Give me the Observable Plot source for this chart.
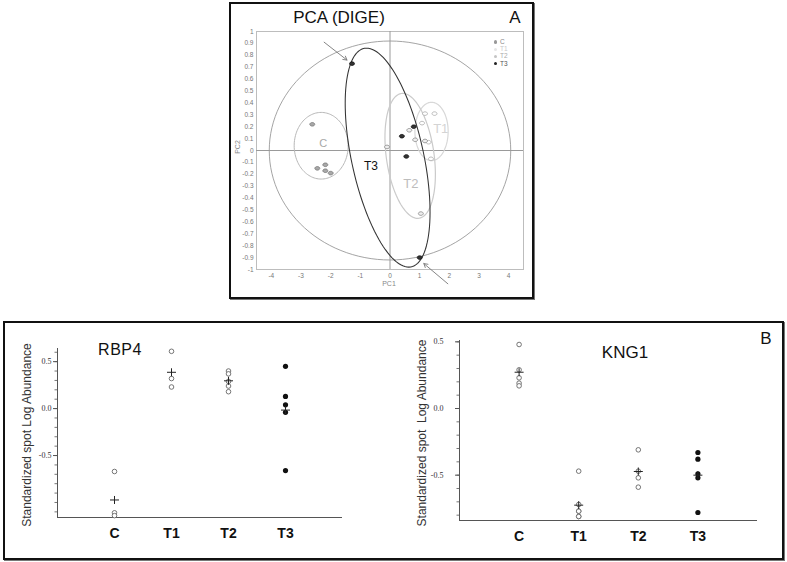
<!DOCTYPE html>
<html><head><meta charset="utf-8">
<script src="https://cdn.jsdelivr.net/npm/d3@7"></script>
<script src="https://cdn.jsdelivr.net/npm/@observablehq/plot@0.6"></script>
<style>
body{margin:0;background:#fff;font-family:"Liberation Sans",Arial,sans-serif;}
#page{position:relative;width:787px;height:562px;overflow:hidden;background:#fff;}
.box{position:absolute;box-sizing:border-box;border:2px solid #111;}
.t{position:absolute;transform:translate(-50%,-50%);white-space:nowrap;line-height:1;}
.svgabs{position:absolute;overflow:visible;}
</style></head><body><div id="page"></div>
<script>
// ---------- Panel A: PCA (DIGE) data ----------
const pcaGroup = ["C","C","C","C","C","T1","T1","T1","T1","T1","T2","T2","T2","T2","T2","T3","T3","T3","T3","T3"];
const pcaPC1 = [-2.62,-2.45,-2.18,-2.18,-2.0, 1.18,1.5,1.08,1.3,1.38, -0.1,0.65,0.85,1.18,1.04, -1.28,1.0,0.4,0.8,0.55];
const pcaPC2 = [0.22,-0.15,-0.12,-0.17,-0.19, 0.31,0.31,0.23,0.07,-0.07, 0.03,0.17,0.09,0.08,-0.53, 0.73,-0.9,0.12,0.2,-0.05];
// confidence ellipses (centre, half-widths, phase tilt)
const ellipseGroup = ["all","C","T1","T2","T3"];
const ellipseCx = [0,-2.32,1.4,0.68,-0.08];
const ellipseCy = [0,0.04,0.16,-0.045,-0.06];
const ellipseRx = [4.07,0.91,0.56,0.85,1.43];
const ellipseRy = [0.92,0.28,0.245,0.525,0.92];
const ellipsePhi = [0,0,0,-0.3,-0.52];
const ellipseLabels = ["C","T1","T2","T3"];
const ellipseLabelX = [-2.25,1.71,0.7,-0.64];
const ellipseLabelY = [0.06,0.18,-0.28,-0.13];
const arrowX1 = [-2.22,1.95], arrowY1 = [0.91,-1.12], arrowX2 = [-1.45,1.14], arrowY2 = [0.76,-0.95];
const pcaXTicks = [-4,-3,-2,-1,0,1,2,3,4];
const pcaYTicks = [-1,-0.9,-0.8,-0.7,-0.6,-0.5,-0.4,-0.3,-0.2,-0.1,0,0.1,0.2,0.3,0.4,0.5,0.6,0.7,0.8,0.9,1];

// ---------- Panel B data ----------
const groups = ["C","T1","T2","T3"];
const rbp4C = [-0.67,-1.11,-1.14];
const rbp4T1 = [0.61,0.32,0.23];
const rbp4T2 = [0.40,0.37,0.29,0.24,0.18];
const rbp4T3 = [0.45,0.13,0.04,-0.04,-0.66];
const kng1C = [0.48,0.29,0.23,0.19,0.17];
const kng1T1 = [-0.47,-0.72,-0.77,-0.77,-0.81,-0.81];
const kng1T2 = [-0.31,-0.47,-0.52,-0.59];
const kng1T3 = [-0.33,-0.38,-0.49,-0.52,-0.78];
const yLabelTicks = [-0.5,0,0.5];

const page = document.getElementById("page");
function box(l,t,w,h,shadow){const d=document.createElement("div");d.className="box";
  Object.assign(d.style,{left:l+"px",top:t+"px",width:w+"px",height:h+"px",boxShadow:shadow||"none"});page.appendChild(d);}
function txt(s,x,y,style){const d=document.createElement("div");d.className="t";d.textContent=s;
  d.style.left=x+"px";d.style.top=y+"px";Object.assign(d.style,style||{});page.appendChild(d);return d;}
function place(svg,l,t){svg.classList.add("svgabs");svg.style.left=l+"px";svg.style.top=t+"px";page.appendChild(svg);}

box(229,2,305,297,"1px 1px 0 #777");
box(3,321,781,239,"1px 1px 0 #777");

// ---------- Panel A plot ----------
const ellipseStroke = {all:"#9a9a9a", C:"#b8b8b8", T1:"#d8d8d8", T2:"#cacaca", T3:"#333333"};
const ellipseWidth = {all:0.9, C:1, T1:1.2, T2:1.2, T3:1.05};
const ellipseMarks = ellipseGroup.map((g,i)=>{
  const pts = d3.range(0,121).map(k=>{const t=k/120*2*Math.PI;
    return {x: ellipseCx[i]+ellipseRx[i]*Math.cos(t), y: ellipseCy[i]+ellipseRy[i]*Math.sin(t+ellipsePhi[i])};});
  return Plot.line(pts,{x:"x",y:"y",stroke:ellipseStroke[g],strokeWidth:ellipseWidth[g]});
});
const pcaData = pcaGroup.map((g,i)=>({g,x:pcaPC1[i],y:pcaPC2[i]}));
const ptFill = {C:"#a8a8a8",T1:"#ffffff",T2:"#eeeeee",T3:"#333333"};
const ptStroke = {C:"#777",T1:"#aaa",T2:"#888",T3:"#111"};
const ellSym = {draw(ctx){const rx=2.5,ry=1.8;for(let i=0;i<=16;i++){const a=i/16*2*Math.PI;const x=rx*Math.cos(a),y=ry*Math.sin(a);i?ctx.lineTo(x,y):ctx.moveTo(x,y);}ctx.closePath();}};
const labelFill = {C:"#a8a8a8",T1:"#d4d4d4",T2:"#bdbdbd",T3:"#111"};
const labelSize = {C:11,T1:13,T2:13,T3:12};
const labelData = ellipseLabels.map((s,i)=>({s,x:ellipseLabelX[i],y:ellipseLabelY[i]}));
const arrowData = arrowX1.map((d,i)=>({x1:d,y1:arrowY1[i],x2:arrowX2[i],y2:arrowY2[i]}));

const svgA = Plot.plot({
  width:304, height:295, marginLeft:27, marginRight:10, marginTop:28, marginBottom:29,
  x:{domain:[-4.5,4.5], label:null}, y:{domain:[-1,1], label:null},
  color:{type:"identity"},
  style:{fontFamily:"Liberation Sans, Arial, sans-serif", background:"transparent"},
  marks:[
    Plot.frame({stroke:"#bdbdbd"}),
    Plot.ruleX([0],{stroke:"#9a9a9a"}),
    Plot.ruleY([0],{stroke:"#9a9a9a"}),
    Plot.axisX({ticks:pcaXTicks, tickSize:0, tickPadding:4, fontSize:6.5, fill:"#777", tickFormat:d=>String(d), label:null}),
    Plot.axisY({ticks:pcaYTicks, tickSize:0, tickPadding:3, fontSize:6.5, fill:"#777", tickFormat:d=>String(+d.toFixed(1)), label:null}),
    ...ellipseMarks,
    Plot.dot(pcaData,{x:"x",y:"y",symbol:ellSym,fill:d=>ptFill[d.g],stroke:d=>ptStroke[d.g],strokeWidth:0.8}),
    Plot.text(labelData,{x:"x",y:"y",text:"s",fill:d=>labelFill[d.s],fontSize:d=>labelSize[d.s]}),
    Plot.arrow(arrowData,{x1:"x1",y1:"y1",x2:"x2",y2:"y2",stroke:"#777",strokeWidth:0.9,headLength:7})
  ]
});
place(svgA,229,3);

txt("PCA (DIGE)",339,17,{fontSize:"17px",color:"#111"});
txt("A",515,17,{fontSize:"17px",color:"#111"});
txt("PC1",389,283,{fontSize:"7px",color:"#888"});
txt("PC2",237,147,{fontSize:"7px",color:"#888",transform:"translate(-50%,-50%) rotate(-90deg)"});
// legend
const legendFill = ["#999","#e6e6e6","#c4c4c4","#222"];
const legendText = ["#888","#c8c8c8","#aaa","#555"];
groups.forEach((g,i)=>{
  const y = 42 + i*7.2;
  const dot=document.createElement("div");
  Object.assign(dot.style,{position:"absolute",left:"494px",top:(y-1.6)+"px",width:"3.2px",height:"3.2px",borderRadius:"50%",background:legendFill[i]});
  page.appendChild(dot);
  txt(g,500,y,{fontSize:"6.5px",color:legendText[i],transform:"translate(0,-50%)"});
});

// ---------- Panel B plots ----------
const plusSym = {draw(ctx){ctx.moveTo(-4.5,0);ctx.lineTo(4.5,0);ctx.moveTo(0,-4);ctx.lineTo(0,4);}};
function dotPlot(values, yDomain, m, labelPad){
  const data=[]; groups.forEach((g,i)=>values[i].forEach(v=>data.push({i,g,v})));
  const means = groups.map((g,i)=>({i,v:d3.mean(values[i])}));
  const minor = d3.range(-12,8).map(d=>d/10).filter(d=>d>=yDomain[0]&&d<=yDomain[1]);
  return Plot.plot({
    width:385, height:230, marginLeft:m[0], marginRight:m[1], marginTop:m[2], marginBottom:m[3],
    x:{domain:[-1,4], label:null}, y:{domain:yDomain, label:null},
    style:{fontFamily:"Liberation Sans, Arial, sans-serif", background:"transparent", overflow:"visible"},
    marks:[
      Plot.ruleX([-1],{stroke:"#555"}),
      Plot.ruleY([yDomain[0]],{stroke:"#555"}),
      Plot.axisY({ticks:minor, tickSize:2.5, stroke:"#777", tickFormat:()=>"", label:null}),
      Plot.axisY({ticks:yLabelTicks, tickSize:4, stroke:"#555", tickPadding:labelPad, tickFormat:d=>d.toFixed(1), fontFamily:"Liberation Serif, DejaVu Serif, serif", fontSize:8, fill:"#333", label:null}),
      Plot.axisX({ticks:[0,1,2,3], tickFormat:i=>groups[i], tickSize:0, tickPadding:11, fontSize:14, fontWeight:"bold", fill:"#111", label:null}),
      Plot.dot(data.filter(d=>d.g!=="T3"),{x:"i",y:"v",r:2.3,stroke:"#666",fill:"white",strokeWidth:0.9}),
      Plot.dot(data.filter(d=>d.g==="T3"),{x:"i",y:"v",r:2.6,fill:"#111"}),
      Plot.dot(means,{x:"i",y:"v",symbol:plusSym,stroke:"#222",strokeWidth:1})
    ]
  });
}
const svgB1 = dotPlot([rbp4C,rbp4T1,rbp4T2,rbp4T3],[-1.16,0.64],[52,48,25,36],2);
place(svgB1,5,323);
const svgB2 = dotPlot([kng1C,kng1T1,kng1T2,kng1T3],[-0.84,0.51],[64,23,17,33],12);
place(svgB2,395,323);

txt("RBP4",120,350,{fontSize:"16px",color:"#111",letterSpacing:"0.5px"});
txt("KNG1",625,352,{fontSize:"17px",color:"#111"});
txt("B",766,338,{fontSize:"17px",color:"#111"});
txt("Standardized spot Log Abundance",27,435,{fontSize:"12px",color:"#333",transform:"translate(-50%,-50%) rotate(-90deg)"});
txt("Standardized spot  Log Abundance",422,433,{fontSize:"12px",color:"#333",whiteSpace:"pre",transform:"translate(-50%,-50%) rotate(-90deg)"});
</script></body></html>
